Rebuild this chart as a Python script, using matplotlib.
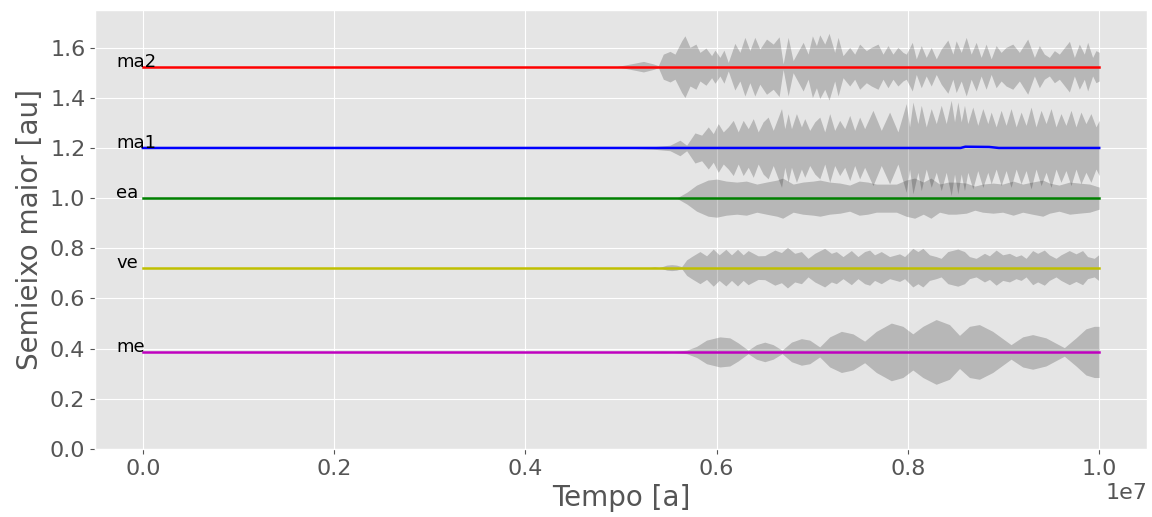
import matplotlib
matplotlib.use("Agg")
import matplotlib.pyplot as plt
import numpy as np

plt.style.use("ggplot")

# semi-major axis of each planet (au) and its label
names = ["me", "ve", "ea", "ma1", "ma2"]
colors = ["m", "y", "g", "b", "r"]
a_me = 0.387
a_ve = 0.723
a_ea = 1.0
a_ma2 = 1.524

# ma1 line (time in Myr)
t_ma1_line = [0, 8.55, 8.6, 8.85, 8.95, 10]
a_ma1_line = [1.2, 1.2, 1.205, 1.204, 1.2, 1.2]

# half width of the gray band (a*e, au), time in Myr
t_me = [5.0, 5.45, 5.55, 5.686, 5.79, 5.894, 6.033, 6.138, 6.225, 6.329, 6.416, 6.503, 6.590,
        6.684, 6.782, 6.886, 6.973, 7.077, 7.182, 7.304, 7.425, 7.547, 7.669,
        7.826, 7.947, 8.051, 8.156, 8.295, 8.434, 8.539, 8.643, 8.747, 8.886,
        9.078, 9.200, 9.304, 9.443, 9.635, 9.757, 9.861, 9.948, 10.0]
d_me = [0, 0.003, 0.002, 0.007, 0.022, 0.047, 0.060, 0.056, 0.036, 0.007, 0.029, 0.039, 0.029,
        0.007, 0.039, 0.053, 0.047, 0.020, 0.060, 0.082, 0.072, 0.043, 0.082,
        0.115, 0.102, 0.072, 0.102, 0.129, 0.109, 0.066, 0.102, 0.109, 0.082,
        0.029, 0.060, 0.069, 0.056, 0.017, 0.056, 0.092, 0.102, 0.102]

t_ve = [5.0, 5.3, 5.35, 5.40, 5.477, 5.53, 5.581, 5.634,
        5.686, 5.738, 5.825, 5.894, 5.964, 6.026, 6.096, 6.155, 6.218, 6.277,
        6.329, 6.433, 6.503, 6.608, 6.677, 6.740, 6.816, 6.886, 6.955, 7.025,
        7.129, 7.199, 7.251, 7.321, 7.408, 7.477, 7.547, 7.599, 7.651, 7.721,
        7.808, 7.912, 7.965, 8.051, 8.104, 8.156, 8.225, 8.295, 8.347, 8.417,
        8.521, 8.591, 8.643, 8.713, 8.800, 8.852, 8.922, 8.991, 9.061, 9.130,
        9.183, 9.235, 9.304, 9.356, 9.426, 9.478, 9.548, 9.600, 9.687, 9.757,
        9.826, 9.878, 9.948, 9.993]
d_ve = [0, 0, 0.003, 0, 0.010, 0.012, 0.010, 0.004,
        0.031, 0.044, 0.064, 0.047, 0.074, 0.051, 0.073, 0.051, 0.073, 0.051,
        0.068, 0.047, 0.048, 0.070, 0.060, 0.081, 0.057, 0.064, 0.037, 0.057,
        0.077, 0.057, 0.064, 0.044, 0.068, 0.044, 0.064, 0.070, 0.051, 0.064,
        0.044, 0.055, 0.044, 0.077, 0.064, 0.077, 0.051, 0.044, 0.037, 0.064,
        0.074, 0.064, 0.044, 0.037, 0.057, 0.047, 0.070, 0.051, 0.057, 0.044,
        0.051, 0.037, 0.068, 0.057, 0.070, 0.051, 0.037, 0.051, 0.068, 0.055,
        0.068, 0.044, 0.037, 0.051]

t_ea = [5.0, 5.58, 5.69, 5.79, 5.91, 6.00, 6.10, 6.21, 6.31, 6.42,
        6.52, 6.63, 6.69, 6.80, 6.90, 7.01, 7.08, 7.18, 7.29, 7.39,
        7.49, 7.58, 7.67, 7.77, 7.88, 7.98, 8.07, 8.16, 8.24, 8.33,
        8.42, 8.50, 8.61, 8.70, 8.78, 8.89, 8.99, 9.10, 9.20, 9.30,
        9.41, 9.48, 9.58, 9.69, 9.79, 9.90, 10.0]
d_ea = [0, 0, 0.024, 0.052, 0.072, 0.076, 0.068, 0.064, 0.068, 0.056,
        0.064, 0.072, 0.080, 0.056, 0.064, 0.068, 0.072, 0.064, 0.060, 0.052,
        0.068, 0.064, 0.056, 0.056, 0.056, 0.072, 0.080, 0.064, 0.080, 0.056,
        0.064, 0.064, 0.060, 0.048, 0.056, 0.060, 0.056, 0.068, 0.056, 0.064,
        0.072, 0.060, 0.052, 0.064, 0.060, 0.056, 0.044]

t_ma1 = [5.0, 5.34, 5.512, 5.616, 5.686, 5.773, 5.843, 5.912, 5.964, 6.016, 6.069, 6.121,
         6.173, 6.225, 6.277, 6.330, 6.382, 6.434, 6.486, 6.538, 6.591, 6.625, 6.678,
         6.712, 6.747, 6.782, 6.834, 6.886, 6.921, 6.973, 7.026, 7.078, 7.130, 7.182,
         7.234, 7.286, 7.339, 7.391, 7.443, 7.495, 7.547, 7.634, 7.721, 7.808, 7.895,
         7.982, 8.017, 8.052, 8.104, 8.139, 8.191, 8.243, 8.296, 8.348, 8.400, 8.452,
         8.487, 8.522, 8.557, 8.591, 8.626, 8.678, 8.730, 8.783, 8.835, 8.870, 8.922,
         8.974, 9.026, 9.078, 9.131, 9.183, 9.235, 9.287, 9.339, 9.392, 9.444, 9.496,
         9.548, 9.600, 9.652, 9.705, 9.757, 9.809, 9.861, 9.913, 9.966, 10.0]
d_ma1 = [0, 0.005, 0.011, 0.031, 0.011, 0.060, 0.051, 0.084, 0.057, 0.097, 0.064, 0.084,
         0.110, 0.064, 0.110, 0.077, 0.117, 0.064, 0.104, 0.123, 0.070, 0.104, 0.157,
         0.077, 0.137, 0.077, 0.137, 0.084, 0.117, 0.070, 0.104, 0.123, 0.064, 0.137,
         0.070, 0.110, 0.077, 0.130, 0.070, 0.123, 0.077, 0.150, 0.070, 0.143, 0.064,
         0.177, 0.084, 0.183, 0.097, 0.170, 0.084, 0.157, 0.097, 0.170, 0.097, 0.190,
         0.104, 0.183, 0.104, 0.170, 0.097, 0.163, 0.090, 0.157, 0.097, 0.143, 0.084,
         0.150, 0.090, 0.157, 0.084, 0.143, 0.090, 0.163, 0.084, 0.150, 0.097, 0.157,
         0.084, 0.137, 0.090, 0.150, 0.084, 0.143, 0.097, 0.137, 0.084, 0.110]

t_ma2 = [4.95, 5.129, 5.234, 5.338, 5.390, 5.442, 5.512, 5.564, 5.634, 5.668, 5.721, 5.783,
         5.825, 5.888, 5.947, 5.982, 6.034, 6.076, 6.121, 6.190, 6.243, 6.295, 6.347,
         6.399, 6.451, 6.521, 6.591, 6.653, 6.695, 6.747, 6.799, 6.904, 6.956, 7.001,
         7.043, 7.078, 7.130, 7.175, 7.234, 7.269, 7.321, 7.391, 7.443, 7.495, 7.565,
         7.617, 7.687, 7.739, 7.791, 7.843, 7.895, 7.948, 7.982, 8.045, 8.087, 8.139,
         8.191, 8.243, 8.296, 8.348, 8.417, 8.470, 8.504, 8.557, 8.609, 8.661, 8.713,
         8.765, 8.817, 8.870, 8.922, 8.974, 9.026, 9.096, 9.165, 9.252, 9.322, 9.374,
         9.426, 9.479, 9.531, 9.583, 9.688, 9.740, 9.792, 9.844, 9.879, 9.931, 9.966, 10.0]
d_ma2 = [0, 0.013, 0.021, 0.011, 0.004, 0.050, 0.061, 0.050, 0.103, 0.123, 0.077, 0.090,
         0.057, 0.074, 0.044, 0.066, 0.037, 0.066, 0.017, 0.093, 0.057, 0.117, 0.064,
         0.117, 0.070, 0.110, 0.090, 0.119, 0.011, 0.117, 0.024, 0.097, 0.050, 0.123,
         0.084, 0.127, 0.090, 0.133, 0.057, 0.117, 0.044, 0.077, 0.050, 0.090, 0.064,
         0.077, 0.090, 0.050, 0.084, 0.050, 0.077, 0.057, 0.050, 0.097, 0.031, 0.084,
         0.037, 0.077, 0.031, 0.070, 0.106, 0.050, 0.103, 0.057, 0.117, 0.050, 0.097,
         0.037, 0.090, 0.031, 0.084, 0.057, 0.077, 0.090, 0.057, 0.110, 0.037, 0.084,
         0.050, 0.037, 0.064, 0.050, 0.101, 0.037, 0.090, 0.050, 0.097, 0.037, 0.064, 0.057]

fig = plt.figure(figsize=(11.52, 5.17), dpi=100)
ax = fig.add_axes([0.0825, 0.1315, 0.9132, 0.8492])

bands = [(t_me, d_me, a_me), (t_ve, d_ve, a_ve), (t_ea, d_ea, a_ea),
         (t_ma1, d_ma1, 1.2), (t_ma2, d_ma2, a_ma2)]
for t, d, a in bands:
    t = np.array(t) * 1e6
    d = np.array(d)
    ax.fill_between(t, a - d, a + d, color="k", alpha=0.2, linewidth=0)

t_line = np.array([0, 10]) * 1e6
ax.plot(t_line, [a_me, a_me], color="m", lw=1.8)
ax.plot(t_line, [a_ve, a_ve], color="y", lw=1.8)
ax.plot(t_line, [a_ea, a_ea], color="g", lw=1.8)
ax.plot(np.array(t_ma1_line) * 1e6, a_ma1_line, color="b", lw=1.8)
ax.plot(t_line, [a_ma2, a_ma2], color="r", lw=1.8)

for name, a in zip(names, [a_me, a_ve, a_ea, 1.2, a_ma2]):
    ax.text(-2.8e5, a, name, fontsize=13, color="black", va="baseline")

ax.set_ylim(0, 1.75)
ax.set_xlabel("Tempo [a]", fontsize=20)
ax.set_ylabel("Semieixo maior [au]", fontsize=20)
ax.tick_params(labelsize=16)
ax.xaxis.get_offset_text().set_fontsize(16)

fig.savefig("out.png", dpi=100)
